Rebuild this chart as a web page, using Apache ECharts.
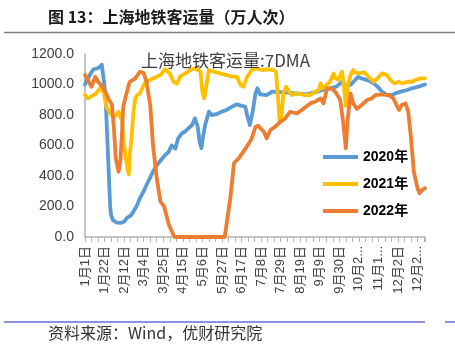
<!DOCTYPE html>
<html>
<head>
<meta charset="utf-8">
<script src="https://cdn.jsdelivr.net/npm/echarts@6/dist/echarts.min.js"></script>
<style>
html,body{margin:0;padding:0;background:#fff;}
#c{width:455px;height:348px;}
</style>
</head>
<body>
<div id="c"></div>
<script>
// X tick labels (every 21 days from 1月1日)
var tickLabels = ['1月1日','1月22日','2月12日','3月4日','3月25日','4月15日','5月6日','5月27日','6月17日','7月8日','7月29日','8月19日','9月9日','9月30日','10月2...','11月1...','12月2日','12月2...'];
var seriesNames = ['2020年','2021年','2022年'];

// 2020年 (day index, value)
var days2020 = [0,3,6,9,13,16,18,20,22,25,27,28,30,34,38,42,45,49,52,56,59,63,66,70,73,77,81,85,90,93,97,100,104,107,111,115,118,121,123,125,127,129,133,136,141,147,152,158,163,168,172,174,177,180,183,185,188,195,201,210,220,228,238,249,256,263,270,276,280,285,290,293,297,303,307,310,314,319,324,330,333,339,346,351,358,365];
var vals2020 = [1000,1040,1070,1100,1105,1115,1130,1040,930,494,200,144,111,95,92,100,125,140,166,210,255,300,341,390,430,470,500,530,560,600,580,647,680,690,713,734,778,723,625,582,669,734,822,800,805,822,833,855,870,860,855,800,734,822,942,975,935,931,953,950,945,940,935,953,964,975,986,1018,990,997,1030,1050,1040,1029,1018,1007,986,953,931,931,942,953,964,975,986,1000];

// 2021年
var days2021 = [0,3,5,9,12,16,20,23,27,30,34,36,38,40,41,45,47,48,50,52,54,56,59,63,66,73,81,86,88,91,95,99,102,108,113,118,124,126,128,131,133,138,145,152,158,163,167,170,174,179,183,190,196,202,205,207,209,211,213,216,219,222,228,235,242,247,251,253,255,258,263,267,269,272,274,276,278,280,282,285,288,290,294,300,305,310,314,319,324,328,332,337,341,346,351,355,360,365];
var vals2021 = [931,909,898,931,942,975,953,855,811,789,800,822,789,756,647,472,410,538,647,822,909,931,942,997,1018,1040,1062,1100,1106,1073,1018,1007,1051,1073,1095,1106,1084,953,909,1018,1095,1084,1073,1062,1051,1051,997,986,1051,1095,1106,1095,1100,1095,1084,931,760,800,942,986,953,931,942,931,931,953,964,1007,975,990,1018,1073,1040,1030,1060,1084,986,860,990,1062,1095,1080,1073,1080,1045,1018,1040,1073,1062,1029,1007,1018,1007,1018,1018,1029,1040,1040];

// 2022年
var days2022 = [0,4,7,11,14,20,25,29,31,33,36,38,40,41,45,48,54,59,63,66,70,73,77,81,85,90,96,150,156,160,165,170,176,179,183,186,188,192,195,199,204,210,215,220,228,235,242,247,253,256,260,263,267,270,274,277,280,282,285,288,292,297,303,308,312,319,326,331,337,340,344,347,350,353,357,359,362,365];
var vals2022 = [1062,1018,985,1051,1018,975,909,866,715,518,428,494,713,855,953,1018,1040,1084,1075,1018,866,603,387,232,200,80,0,0,255,485,516,560,614,647,723,730,740,690,647,702,723,756,778,820,811,844,876,887,909,876,975,975,964,940,898,760,582,767,942,876,840,866,898,909,931,935,931,909,833,866,876,822,647,428,319,287,308,320];

function zip(d, v){ var out=[]; for(var i=0;i<d.length;i++){ out.push([d[i], v[i]]); } return out; }

var chart = echarts.init(document.getElementById('c'), null, {renderer:'canvas'});
var colors = ['#5B9BD5','#FFC000','#ED7D31'];
var vals = [vals2020, vals2021, vals2022];
var days = [days2020, days2021, days2022];
var series = [];
for (var k=0;k<3;k++){
  series.push({
    name: seriesNames[k], type:'line', data: zip(days[k], vals[k]),
    showSymbol:false, symbol:'none', smooth:false,
    lineStyle:{width:3.8, color:colors[k], cap:'round', join:'round'},
    itemStyle:{color:colors[k]}, z: 2+k
  });
}
chart.setOption({
  animation:false,
  color: colors,
  title:{
    text:'上海地铁客运量:7DMA', left:141, top:52, padding:0,
    textStyle:{fontSize:17, fontWeight:'normal', color:'#404040', fontFamily:'"Noto Sans CJK SC","Liberation Sans",sans-serif'}
  },
  legend:{
    orient:'vertical', left:323, top:149, itemWidth:35, itemHeight:4, icon:'rect', itemGap:11, padding:0,
    data: seriesNames,
    textStyle:{fontSize:14, fontWeight:'bold', color:'#000', lineHeight:16, fontFamily:'"Liberation Sans","Noto Sans CJK SC",sans-serif'}
  },
  grid:{left:85, right:30, top:54, bottom:111, containLabel:false},
  xAxis:{
    type:'value', min:0, max:365, interval:7,
    splitLine:{show:false},
    axisLine:{show:true, lineStyle:{color:'#b3b3b3', width:1.5}},
    axisTick:{show:true, length:5, inside:false, lineStyle:{color:'#b3b3b3', width:1}},
    axisLabel:{
      rotate:90, margin:9, fontSize:13, color:'#404040',
      fontFamily:'"Liberation Sans","Noto Sans CJK SC",sans-serif',
      showMinLabel:true, showMaxLabel:true,
      formatter:function(v){ if (v % 21 === 0 && v/21 < tickLabels.length) return tickLabels[v/21]; return ''; }
    }
  },
  yAxis:{
    type:'value', min:0, max:1200, interval:200,
    splitLine:{show:false},
    axisLine:{show:true, lineStyle:{color:'#b3b3b3', width:1.5}},
    axisTick:{show:false},
    axisLabel:{margin:11, fontSize:14, color:'#404040', fontFamily:'"Liberation Sans",sans-serif',
      formatter:function(v){ return v.toFixed(1); }}
  },
  graphic:[
    {type:'text', left:48, top:9, style:{text:'图 13：上海地铁客运量（万人次）', font:'bold 16px "Noto Sans CJK SC", sans-serif', fill:'#1a1a1a'}},
    {type:'line', shape:{x1:4, y1:32.5, x2:455, y2:32.5}, style:{stroke:'#7f7f7f', lineWidth:1.5}},
    {type:'line', shape:{x1:4, y1:322, x2:425, y2:322}, style:{stroke:'#6b6bd6', lineWidth:1.5}},
    {type:'line', shape:{x1:445, y1:322, x2:455, y2:322}, style:{stroke:'#6b6bd6', lineWidth:1.5}},
    {type:'text', left:48, top:325, style:{text:'资料来源：Wind，优财研究院', font:'16px "Noto Sans CJK SC", sans-serif', fill:'#333'}}
  ],
  series: series
});
</script>
</body>
</html>
